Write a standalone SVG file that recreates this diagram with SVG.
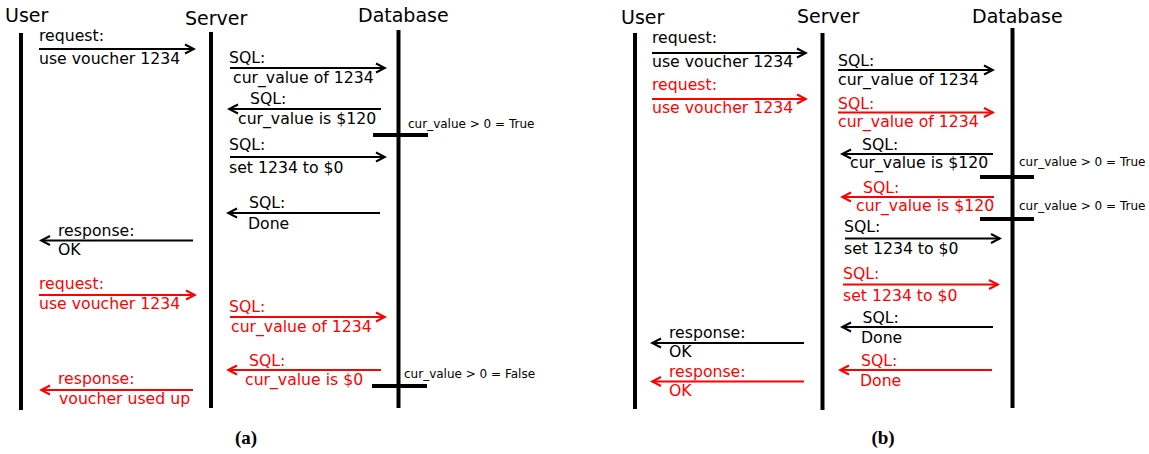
<svg xmlns="http://www.w3.org/2000/svg" width="1149" height="454" viewBox="0 0 1149 454">
<style>
text{font-family:"DejaVu Sans","Liberation Sans",sans-serif;}
.h{font-size:19px;fill:#000;}
.t{font-size:15.7px;fill:#000;}
.r{fill:#ff0000;}
.s{font-size:12px;fill:#000;}
.cap{font-family:"Liberation Serif",serif;font-weight:bold;font-size:19px;fill:#000;}
.life{stroke:#000;stroke-width:4;fill:none;}
.bar{stroke:#000;stroke-width:4;fill:none;}
.k{stroke:#000;stroke-width:2;fill:none;marker-end:url(#ak);}
.rd{stroke:#ff0000;stroke-width:2;fill:none;marker-end:url(#ar);}
</style>
<defs>
<marker id="ak" viewBox="-12 -7 14 14" refX="0" refY="0" markerWidth="14" markerHeight="14" orient="auto" markerUnits="userSpaceOnUse">
<path d="M-9,-4.5 L0,0 L-9,4.5" fill="none" stroke="#000" stroke-width="2"/>
</marker>
<marker id="ar" viewBox="-12 -7 14 14" refX="0" refY="0" markerWidth="14" markerHeight="14" orient="auto" markerUnits="userSpaceOnUse">
<path d="M-9,-4.5 L0,0 L-9,4.5" fill="none" stroke="#ff0000" stroke-width="2"/>
</marker>
</defs>

<!-- Panel (a) -->
<g id="a-user"><text class="h" x="5" y="22">User</text><line class="life" x1="21" y1="33" x2="21" y2="410"/></g>
<g id="a-server"><text class="h" x="185" y="25">Server</text><line class="life" x1="211" y1="32" x2="211" y2="408"/></g>
<g id="a-database"><text class="h" x="358" y="22">Database</text><line class="life" x1="398.5" y1="30" x2="398.5" y2="408"/></g>
<g id="a-check1"><line class="bar" x1="373" y1="135" x2="428" y2="135"/><text class="s" x="408" y="128">cur_value &gt; 0 = True</text></g>
<g id="a-check2"><line class="bar" x1="372" y1="386" x2="427" y2="386"/><text class="s" x="404" y="378">cur_value &gt; 0 = False</text></g>

<g id="a-connectors">
<line class="k" x1="39" y1="49" x2="194" y2="49"/>
<line class="k" x1="230" y1="68" x2="385" y2="68"/>
<line class="k" x1="381" y1="109" x2="229" y2="109"/>
<line class="k" x1="230" y1="157" x2="385" y2="157"/>
<line class="k" x1="380" y1="213" x2="228" y2="213"/>
<line class="k" x1="193" y1="240.5" x2="41" y2="240.5"/>
<line class="rd" x1="39" y1="295" x2="195" y2="295"/>
<line class="rd" x1="230" y1="317" x2="385" y2="317"/>
<line class="rd" x1="381" y1="370" x2="228" y2="370"/>
<line class="rd" x1="193" y1="390" x2="41" y2="390"/>
</g>
<g id="a-labels">
<text class="t" x="39" y="41">request:</text><text class="t" x="39" y="64">use voucher 1234</text>
<text class="t" x="229" y="63">SQL:</text><text class="t" x="233" y="83">cur_value of 1234</text>
<text class="t" x="250" y="104">SQL:</text><text class="t" x="238" y="124">cur_value is $120</text>
<text class="t" x="229" y="150">SQL:</text><text class="t" x="229" y="173">set 1234 to $0</text>
<text class="t" x="249" y="208">SQL:</text><text class="t" x="248" y="229">Done</text>
<text class="t" x="58" y="236">response:</text><text class="t" x="58" y="255">OK</text>
<text class="t r" x="39" y="289">request:</text><text class="t r" x="39" y="309">use voucher 1234</text>
<text class="t r" x="229" y="312">SQL:</text><text class="t r" x="231" y="332">cur_value of 1234</text>
<text class="t r" x="249" y="366">SQL:</text><text class="t r" x="245" y="385">cur_value is $0</text>
<text class="t r" x="58" y="384">response:</text><text class="t r" x="59" y="404">voucher used up</text>
</g>
<text class="cap" x="246" y="444" text-anchor="middle">(a)</text>

<!-- Panel (b) -->
<g id="b-user"><text class="h" x="621" y="24">User</text><line class="life" x1="635" y1="33" x2="635" y2="409"/></g>
<g id="b-server"><text class="h" x="797" y="22.5">Server</text><line class="life" x1="822.5" y1="33" x2="822.5" y2="410"/></g>
<g id="b-database"><text class="h" x="972" y="22.5">Database</text><line class="life" x1="1012.5" y1="28" x2="1012.5" y2="408"/></g>
<g id="b-check1"><line class="bar" x1="980" y1="177" x2="1034" y2="177"/><text class="s" x="1019" y="165.5">cur_value &gt; 0 = True</text></g>
<g id="b-check2"><line class="bar" x1="980" y1="219" x2="1034" y2="219"/><text class="s" x="1019" y="210">cur_value &gt; 0 = True</text></g>

<g id="b-connectors">
<line class="k" x1="652" y1="53" x2="806" y2="53"/>
<line class="rd" x1="652" y1="99" x2="806" y2="99"/>
<line class="k" x1="838" y1="70" x2="993" y2="70"/>
<line class="rd" x1="838" y1="112.5" x2="993" y2="112.5"/>
<line class="k" x1="993" y1="154" x2="842" y2="154"/>
<line class="rd" x1="994" y1="197" x2="842" y2="197"/>
<line class="k" x1="845" y1="238.5" x2="1000" y2="238.5"/>
<line class="rd" x1="843" y1="284.5" x2="998" y2="284.5"/>
<line class="k" x1="993" y1="327" x2="842" y2="327"/>
<line class="k" x1="804" y1="343" x2="652" y2="343"/>
<line class="rd" x1="992" y1="370" x2="840" y2="370"/>
<line class="rd" x1="804" y1="381.5" x2="652" y2="381.5"/>
</g>
<g id="b-labels">
<text class="t" x="652" y="43">request:</text><text class="t" x="652" y="67">use voucher 1234</text>
<text class="t r" x="652" y="90">request:</text><text class="t r" x="652" y="113">use voucher 1234</text>
<text class="t" x="838" y="65.5">SQL:</text><text class="t" x="838" y="85">cur_value of 1234</text>
<text class="t r" x="838" y="109">SQL:</text><text class="t r" x="838" y="127">cur_value of 1234</text>
<text class="t" x="862" y="150">SQL:</text><text class="t" x="850" y="168">cur_value is $120</text>
<text class="t r" x="863" y="192.5">SQL:</text><text class="t r" x="856" y="211">cur_value is $120</text>
<text class="t" x="844" y="231.5">SQL:</text><text class="t" x="844" y="254">set 1234 to $0</text>
<text class="t r" x="843" y="279">SQL:</text><text class="t r" x="843" y="301">set 1234 to $0</text>
<text class="t" x="862.5" y="322.5">SQL:</text><text class="t" x="861" y="343">Done</text>
<text class="t" x="669" y="337.5">response:</text><text class="t" x="669" y="357">OK</text>
<text class="t r" x="861" y="365.5">SQL:</text><text class="t r" x="860" y="386">Done</text>
<text class="t r" x="669" y="376.5">response:</text><text class="t r" x="669" y="396">OK</text>
</g>
<text class="cap" x="883" y="444" text-anchor="middle">(b)</text>
</svg>
